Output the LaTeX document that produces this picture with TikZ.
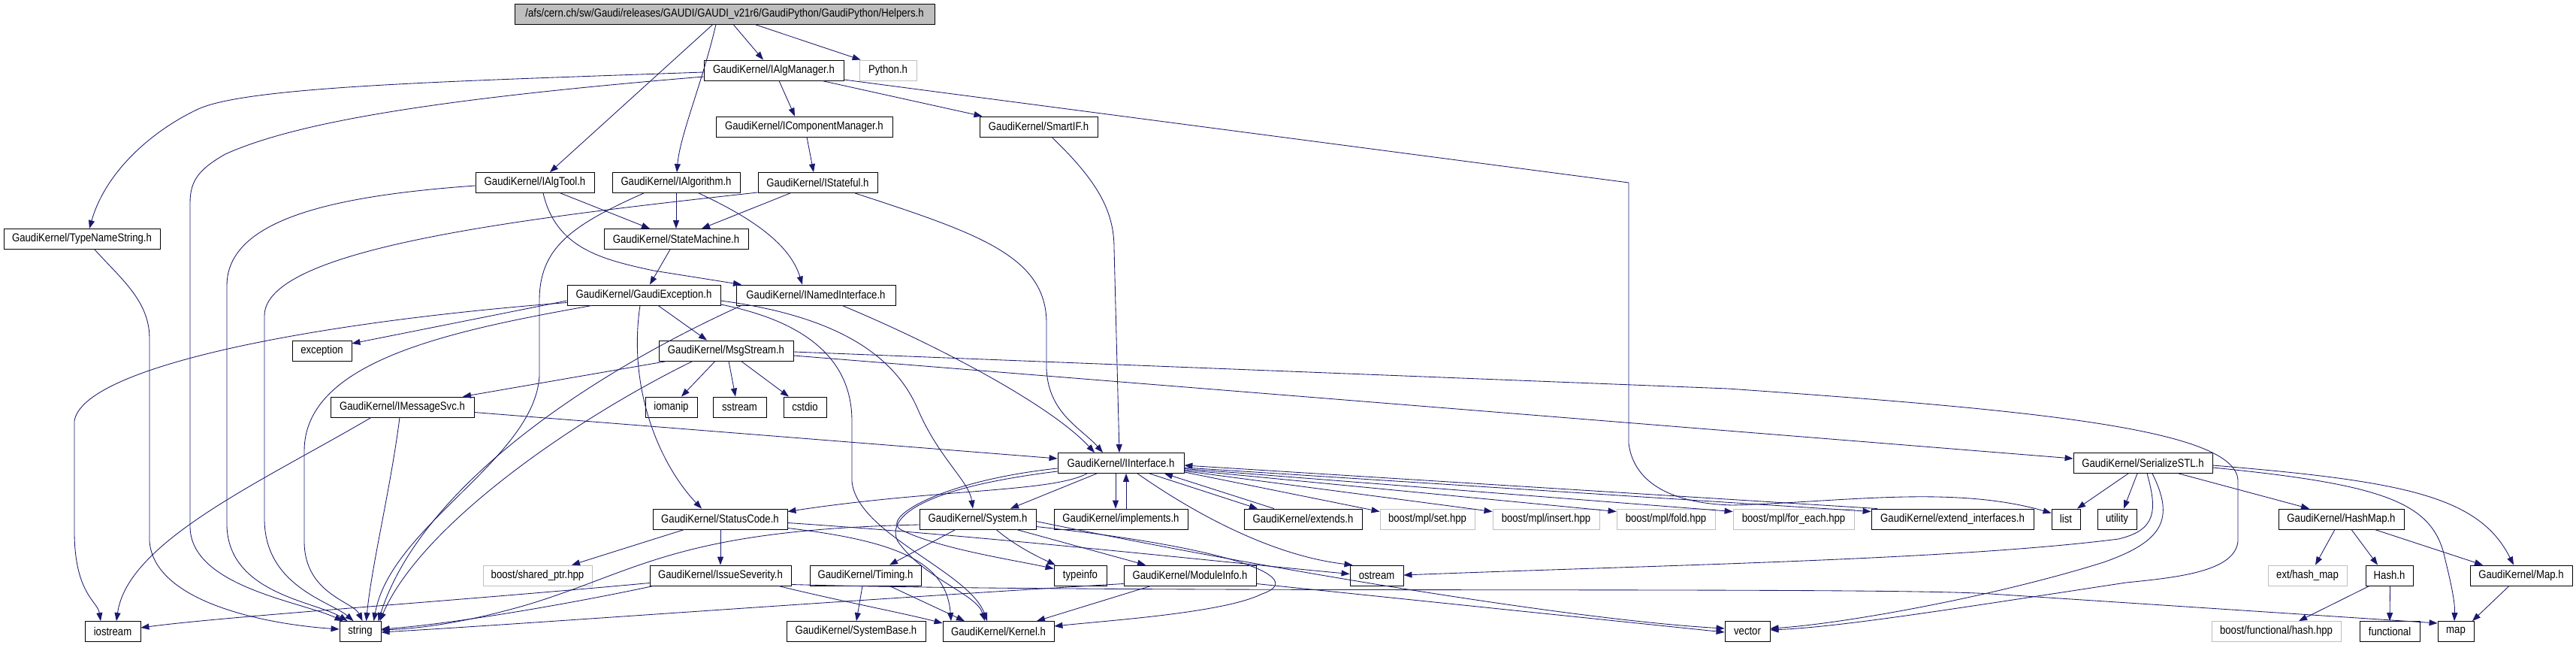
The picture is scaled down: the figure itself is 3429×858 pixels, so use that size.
\documentclass[tikz,border=0pt]{standalone}
\usepackage{fontspec}
\setmainfont{Liberation Sans}[FakeStretch=0.86]
\usetikzlibrary{arrows.meta}
\definecolor{edgec}{RGB}{25,25,112}
\definecolor{gbord}{RGB}{191,191,191}
\definecolor{topfill}{RGB}{191,191,191}
\begin{document}
\begin{tikzpicture}[x=1pt,y=-1pt,
  box/.style={draw=black, line width=0.85pt, fill=white, minimum height=27pt, inner sep=0pt, font=\fontsize{15.3}{16}\selectfont},
  gbox/.style={box, draw=gbord},
  topbox/.style={box, fill=topfill},
  e/.style={draw=edgec, line width=0.85pt, -{Triangle[length=11pt,width=8pt]}}]
\fill[white] (0,0) rectangle (3429,858);
\useasboundingbox (0,0) rectangle (3429,858);
% nodes
\node[topbox, minimum width=559pt] (helpers) at (964.5,18.5) {/afs/cern.ch/sw/Gaudi/releases/GAUDI/GAUDI\_v21r6/GaudiPython/GaudiPython/Helpers.h};
\node[gbox, minimum width=76pt] (python) at (1182,93.5) {Python.h};
\node[box, minimum width=186pt] (iam) at (1030,93.5) {GaudiKernel/IAlgManager.h};
\node[box, minimum width=235pt] (icm) at (1070.5,168.5) {GaudiKernel/IComponentManager.h};
\node[box, minimum width=157pt] (smartif) at (1382.5,168.5) {GaudiKernel/SmartIF.h};
\node[box, minimum width=208pt] (tns) at (109,318) {GaudiKernel/TypeNameString.h};
\node[box, minimum width=158pt] (ialgtool) at (712,243) {GaudiKernel/IAlgTool.h};
\node[box, minimum width=170pt] (ialgo) at (900,243) {GaudiKernel/IAlgorithm.h};
\node[box, minimum width=159pt] (istateful) at (1088.5,243) {GaudiKernel/IStateful.h};
\node[box, minimum width=192pt] (sm) at (900,318) {GaudiKernel/StateMachine.h};
\node[box, minimum width=204pt] (gex) at (857,392.5) {GaudiKernel/GaudiException.h};
\node[box, minimum width=212pt] (ini) at (1086,392.5) {GaudiKernel/INamedInterface.h};
\node[box, minimum width=79pt] (exception) at (428.5,466.5) {exception};
\node[box, minimum width=179pt] (msg) at (966.5,466.5) {GaudiKernel/MsgStream.h};
\node[box, minimum width=191pt] (ims) at (535.5,541.5) {GaudiKernel/IMessageSvc.h};
\node[box, minimum width=69pt] (iomanip) at (893.5,541.5) {iomanip};
\node[box, minimum width=71pt] (sstream) at (984.5,541.5) {sstream};
\node[box, minimum width=57pt] (cstdio) at (1071.5,541.5) {cstdio};
\node[box, minimum width=168pt] (iif) at (1492,616) {GaudiKernel/IInterface.h};
\node[box, minimum width=185pt] (sstl) at (2852.5,616) {GaudiKernel/SerializeSTL.h};
\node[box, minimum width=179pt] (sc) at (958.5,690.5) {GaudiKernel/StatusCode.h};
\node[box, minimum width=155pt] (sys) at (1301.5,690.5) {GaudiKernel/System.h};
\node[box, minimum width=178pt] (impl) at (1492,690.5) {GaudiKernel/implements.h};
\node[box, minimum width=157pt] (ext) at (1734.5,690.5) {GaudiKernel/extends.h};
\node[gbox, minimum width=126pt] (mplset) at (1900,690.5) {boost/mpl/set.hpp};
\node[gbox, minimum width=142pt] (mplins) at (2058,690.5) {boost/mpl/insert.hpp};
\node[gbox, minimum width=131pt] (mplfold) at (2217.5,690.5) {boost/mpl/fold.hpp};
\node[gbox, minimum width=161pt] (mplfe) at (2387.5,690.5) {boost/mpl/for\_each.hpp};
\node[box, minimum width=216pt] (extif) at (2599,690.5) {GaudiKernel/extend\_interfaces.h};
\node[box, minimum width=38pt] (list) at (2750,690.5) {list};
\node[box, minimum width=52pt] (utility) at (2818,690.5) {utility};
\node[box, minimum width=167pt] (hashmap) at (3116.5,690.5) {GaudiKernel/HashMap.h};
\node[gbox, minimum width=145pt] (bsp) at (715.5,765.5) {boost/shared\_ptr.hpp};
\node[box, minimum width=188pt] (isev) at (959,765.5) {GaudiKernel/IssueSeverity.h};
\node[box, minimum width=148pt] (timing) at (1152,765.5) {GaudiKernel/Timing.h};
\node[box, minimum width=70pt] (typeinfo) at (1438,765.5) {typeinfo};
\node[box, minimum width=176pt] (modinfo) at (1584,765.5) {GaudiKernel/ModuleInfo.h};
\node[box, minimum width=71pt] (ostream) at (1832.5,765.5) {ostream};
\node[gbox, minimum width=105pt] (exthm) at (3071.5,765.5) {ext/hash\_map};
\node[box, minimum width=63pt] (hash) at (3180.5,765.5) {Hash.h};
\node[box, minimum width=136pt] (maph) at (3356,765.5) {GaudiKernel/Map.h};
\node[box, minimum width=74pt] (iostream) at (150,840) {iostream};
\node[box, minimum width=55pt] (string) at (479.5,840) {string};
\node[box, minimum width=185pt] (sysbase) at (1139.5,840) {GaudiKernel/SystemBase.h};
\node[box, minimum width=148pt] (kernel) at (1329,840) {GaudiKernel/Kernel.h};
\node[box, minimum width=60pt] (vector) at (2326,840) {vector};
\node[gbox, minimum width=172pt] (bfh) at (3030,840) {boost/functional/hash.hpp};
\node[box, minimum width=80pt] (functional) at (3181,840) {functional};
\node[box, minimum width=48pt] (map) at (3269,840) {map};
% edges
\draw[e] ([xshift=11.5pt]helpers.south) -- ([xshift=-14pt]iam.north);
\draw[e] ([xshift=40pt]helpers.south) -- ([xshift=2pt]python.north west);
\draw[e] ([xshift=-15.5pt]helpers.south) -- ([xshift=20pt]ialgtool.north);
\draw[e] ([xshift=-11.5pt]helpers.south) .. controls (935,110) and (905,180) .. ([xshift=1pt]ialgo.north);
\draw[e] ([yshift=-2.5pt]iam.west) .. controls (600,108) and (330,115) .. (264,145) .. controls (200,175) and (140,230) .. ([xshift=10pt]tns.north);
\draw[e] ([yshift=-8.5pt]iam.west) .. controls (600,130) and (400,160) .. (300,205) .. controls (265,225) and (253,240) .. (253,270) -- (253,700) .. controls (253,780) and (400,800) .. ([xshift=-23pt]string.north);
\draw[e] ([xshift=17pt]tns.south) .. controls (160,370) and (199,400) .. (199,450) -- (199,720) .. controls (205,800) and (350,830) .. ([yshift=3pt]string.west);
\draw[e] ([xshift=7pt]iam.south) -- ([xshift=-12.5pt]icm.north);
\draw[e] ([xshift=64pt]iam.south) -- ([xshift=-75pt]smartif.north);
\draw[e] ([yshift=-12.5pt]iam.east) -- (2168,243) -- (2168,590) .. controls (2175,645) and (2230,670) .. (2306,672) .. controls (2450,668) and (2600,645) .. ([yshift=8pt]list.west);
\draw[e] ([xshift=3.5pt]icm.south) -- ([xshift=-5.5pt]istateful.north);
\draw[e] ([yshift=-4pt]ialgtool.west) .. controls (450,260) and (302,290) .. (302,380) -- (302,700) .. controls (305,790) and (420,800) .. ([xshift=-17pt]string.north);
\draw[e] ([xshift=34pt]ialgtool.south) -- ([xshift=-35pt]sm.north);
\draw[e] ([xshift=11pt]ialgtool.south) .. controls (740,330) and (800,345) .. (870,360) -- ([xshift=-99pt]ini.north);
\draw[e] (ialgo.south) -- (sm.north);
\draw[e] ([xshift=30pt]ialgo.south) .. controls (990,285) and (1050,320) .. ([xshift=-18pt]ini.north);
\draw[e] ([xshift=-43pt]ialgo.south) .. controls (760,300) and (718,330) .. (718,400) -- (718,500) .. controls (712,610) and (520,700) .. ([xshift=18pt]string.north);
\draw[e] ([xshift=-36.5pt]istateful.south) -- ([xshift=34pt]sm.north);
\draw[e] ([yshift=-13pt]istateful.west) .. controls (700,290) and (352,330) .. (352,420) -- (352,690) .. controls (352,780) and (440,800) .. ([xshift=-9pt]string.north);
\draw[e] ([xshift=49.5pt]istateful.south) .. controls (1300,310) and (1393,340) .. (1393,430) -- (1393,490) .. controls (1395,550) and (1440,570) .. ([xshift=-24pt]iif.north);
\draw[e] ([xshift=17.5pt]smartif.south) .. controls (1460,240) and (1483,280) .. (1483,330) -- ([xshift=-2pt]iif.north);
\draw[e] ([xshift=-8pt]sm.south) -- ([xshift=8pt]gex.north);
\draw[e] ([yshift=-7.5pt]gex.west) -- ([yshift=9.5pt]exception.east);
\draw[e] ([yshift=-10pt]gex.west) .. controls (400,430) and (110,490) .. (99,560) -- (99,710) .. controls (100,790) and (130,800) .. ([xshift=-16pt]iostream.north);
\draw[e] ([xshift=-69pt]gex.south) .. controls (600,440) and (405,480) .. (405,600) -- (405,720) .. controls (405,790) and (470,800) .. ([xshift=3pt]string.north);
\draw[e] ([xshift=19pt]gex.south) -- ([xshift=-25.5pt]msg.north);
\draw[e] ([xshift=-5pt]gex.south) .. controls (835,520) and (880,620) .. ([xshift=-24.5pt]sc.north);
\draw[e] ([yshift=-7.5pt]gex.east) .. controls (1110,420) and (1190,470) .. (1222,545) .. controls (1250,610) and (1290,640) .. ([xshift=-6.5pt]sys.north);
\draw[e] ([yshift=-12.5pt]gex.east) .. controls (1060,425) and (1134,470) .. (1134,560) -- (1134,640) .. controls (1140,710) and (1290,760) .. ([xshift=-15pt]kernel.north);
\draw[e] ([xshift=35pt]ini.south) .. controls (1250,460) and (1400,540) .. ([xshift=-35pt]iif.north);
\draw[e] ([xshift=-99pt]ini.south) .. controls (780,500) and (560,650) .. ([xshift=24pt]string.north);
\draw[e] ([xshift=-78.5pt]msg.south) -- ([xshift=80.5pt]ims.north);
\draw[e] ([xshift=-44.5pt]msg.south) .. controls (760,560) and (560,700) .. ([xshift=26pt]string.north);
\draw[e] ([xshift=-14.5pt]msg.south) -- ([xshift=13.5pt]iomanip.north);
\draw[e] ([xshift=3.5pt]msg.south) -- ([xshift=-5.5pt]sstream.north);
\draw[e] ([xshift=20pt]msg.south) -- ([xshift=-21.5pt]cstdio.north);
\draw[e] ([yshift=-6.5pt]msg.east) -- ([yshift=6pt]sstl.west);
\draw[e] ([yshift=-1.5pt]msg.east) -- (2300,517) .. controls (2700,545) and (2979,570) .. (2979,640) -- (2979,720) .. controls (2975,760) and (2900,768) .. (2830,775) .. controls (2600,810) and (2450,834) .. ([yshift=2pt]vector.east);
\draw[e] ([xshift=-41.5pt]ims.south) .. controls (350,640) and (170,720) .. ([xshift=5pt]iostream.north);
\draw[e] ([xshift=-3.5pt]ims.south) .. controls (520,650) and (495,750) .. ([xshift=8pt]string.north);
\draw[e] ([yshift=-7pt]ims.east) -- ([yshift=6pt]iif.west);
\draw[e] ([xshift=-32pt]iif.south) -- ([xshift=43.5pt]sys.north);
\draw[e] ([xshift=-7pt]iif.south) -- ([xshift=-7pt]impl.north);
\draw[e] ([xshift=7pt]impl.north) -- ([xshift=7pt]iif.south);
\draw[e] ([xshift=38pt]iif.south) -- ([xshift=-60.5pt]ext.north);
\draw[e] ([xshift=-38.5pt]ext.north) -- ([xshift=58pt]iif.south);
\draw[e] ([yshift=-12pt]iif.east) -- ([yshift=10pt]mplset.west);
\draw[e] ([yshift=-10.5pt]iif.east) -- ([yshift=10pt]mplins.west);
\draw[e] ([yshift=-9pt]iif.east) -- ([yshift=10pt]mplfold.west);
\draw[e] ([yshift=-7.5pt]iif.east) -- ([yshift=10pt]mplfe.west);
\draw[e] ([yshift=-6pt]iif.east) -- ([yshift=10pt]extif.west);
\draw[e] ([xshift=-100pt]extif.north) -- ([yshift=-3pt]iif.east);
\draw[e] ([xshift=22pt]iif.south) .. controls (1600,690) and (1700,740) .. ([xshift=-32pt]ostream.north);
\draw[e] ([xshift=-45pt]iif.south) .. controls (1400,655) and (1250,650) .. ([yshift=10pt]sc.east);
\draw[e] ([yshift=-7pt]iif.west) .. controls (1250,640) and (1170,690) .. (1200,705) .. controls (1250,730) and (1350,745) .. ([yshift=9pt]typeinfo.west);
\draw[e] ([yshift=-11pt]iif.west) .. controls (1220,650) and (1180,690) .. (1195,720) .. controls (1230,770) and (1300,790) .. ([xshift=-18pt]kernel.north);
\draw[e] ([xshift=-29.5pt]sys.south) -- ([xshift=32pt]timing.north);
\draw[e] ([xshift=24.5pt]sys.south) .. controls (1350,725) and (1380,740) .. ([xshift=-33pt]typeinfo.north);
\draw[e] ([xshift=51.5pt]sys.south) -- ([xshift=-59pt]modinfo.north);
\draw[e] ([yshift=-7.5pt]sys.west) .. controls (900,705) and (850,760) .. (700,805) .. controls (620,828) and (560,836) .. ([yshift=2pt]string.east);
\draw[e] ([yshift=-10pt]sys.east) .. controls (1650,730) and (1740,770) .. (1680,790) .. controls (1630,815) and (1480,825) .. ([yshift=7pt]kernel.east);
\draw[e] ([yshift=-3pt]sys.east) .. controls (1700,760) and (2100,825) .. ([yshift=4pt]vector.west);
\draw[e] ([xshift=-47.5pt]sc.south) -- ([xshift=45.5pt]bsp.north);
\draw[e] ([xshift=0.5pt]sc.south) -- (isev.north);
\draw[e] ([yshift=-5pt]sc.east) .. controls (1300,712) and (1600,745) .. ([yshift=2pt]ostream.west);
\draw[e] ([yshift=-12pt]sc.east) .. controls (1200,720) and (1260,750) .. ([xshift=-63pt]kernel.north);
\draw[e] ([yshift=-10pt]isev.west) .. controls (600,800) and (300,820) .. ([yshift=5pt]iostream.east);
\draw[e] ([xshift=-89pt]isev.south) .. controls (750,805) and (600,830) .. ([yshift=3pt]string.east);
\draw[e] ([xshift=77pt]isev.south) .. controls (1120,800) and (1200,815) .. ([yshift=11pt]kernel.west);
\draw[e] ([yshift=-12pt]isev.east) .. controls (1500,790) and (2500,780) .. (2650,790) -- ([yshift=11pt]map.west);
\draw[e] ([xshift=-4pt]timing.south) -- ([xshift=0.5pt]sysbase.north);
\draw[e] ([xshift=32pt]timing.south) -- ([xshift=-45pt]kernel.north);
\draw[e] ([yshift=-11pt]modinfo.west) .. controls (1100,800) and (700,830) .. ([yshift=-1pt]string.east);
\draw[e] ([xshift=-52pt]modinfo.south) -- ([xshift=51pt]kernel.north);
\draw[e] ([yshift=-11pt]modinfo.east) -- ([yshift=-1pt]vector.west);
\draw[e] ([xshift=-19.5pt]sstl.south) -- ([xshift=15pt]list.north);
\draw[e] ([xshift=-7.5pt]sstl.south) -- ([xshift=9pt]utility.north);
\draw[e] ([xshift=5.5pt]sstl.south) .. controls (2872,680) and (2870,705) .. (2820,717) .. controls (2600,745) and (2200,752) .. ([yshift=0.5pt]ostream.east);
\draw[e] ([xshift=12.5pt]sstl.south) .. controls (2895,690) and (2880,720) .. (2800,748) .. controls (2650,795) and (2450,830) .. ([yshift=4pt]vector.east);
\draw[e] ([xshift=47.5pt]sstl.south) -- ([xshift=-42.5pt]hashmap.north);
\draw[e] ([yshift=-6pt]sstl.east) .. controls (3180,645) and (3240,670) .. (3255,745) .. controls (3265,785) and (3268,805) .. ([xshift=-2pt]map.north);
\draw[e] ([yshift=-3pt]sstl.east) .. controls (3200,640) and (3300,660) .. ([xshift=-10pt]maph.north);
\draw[e] ([xshift=-8.5pt]hashmap.south) -- ([xshift=10.5pt]exthm.north);
\draw[e] ([xshift=13.5pt]hashmap.south) -- ([xshift=-15.5pt]hash.north);
\draw[e] ([xshift=44.5pt]hashmap.south) -- ([xshift=-51pt]maph.north);
\draw[e] ([xshift=-26.5pt]hash.south) -- ([xshift=30pt]bfh.north);
\draw[e] ([xshift=1pt]hash.south) -- (functional.north);
\draw[e] ([xshift=-16pt]maph.south) -- ([xshift=22pt]map.north);
\end{tikzpicture}
\end{document}
